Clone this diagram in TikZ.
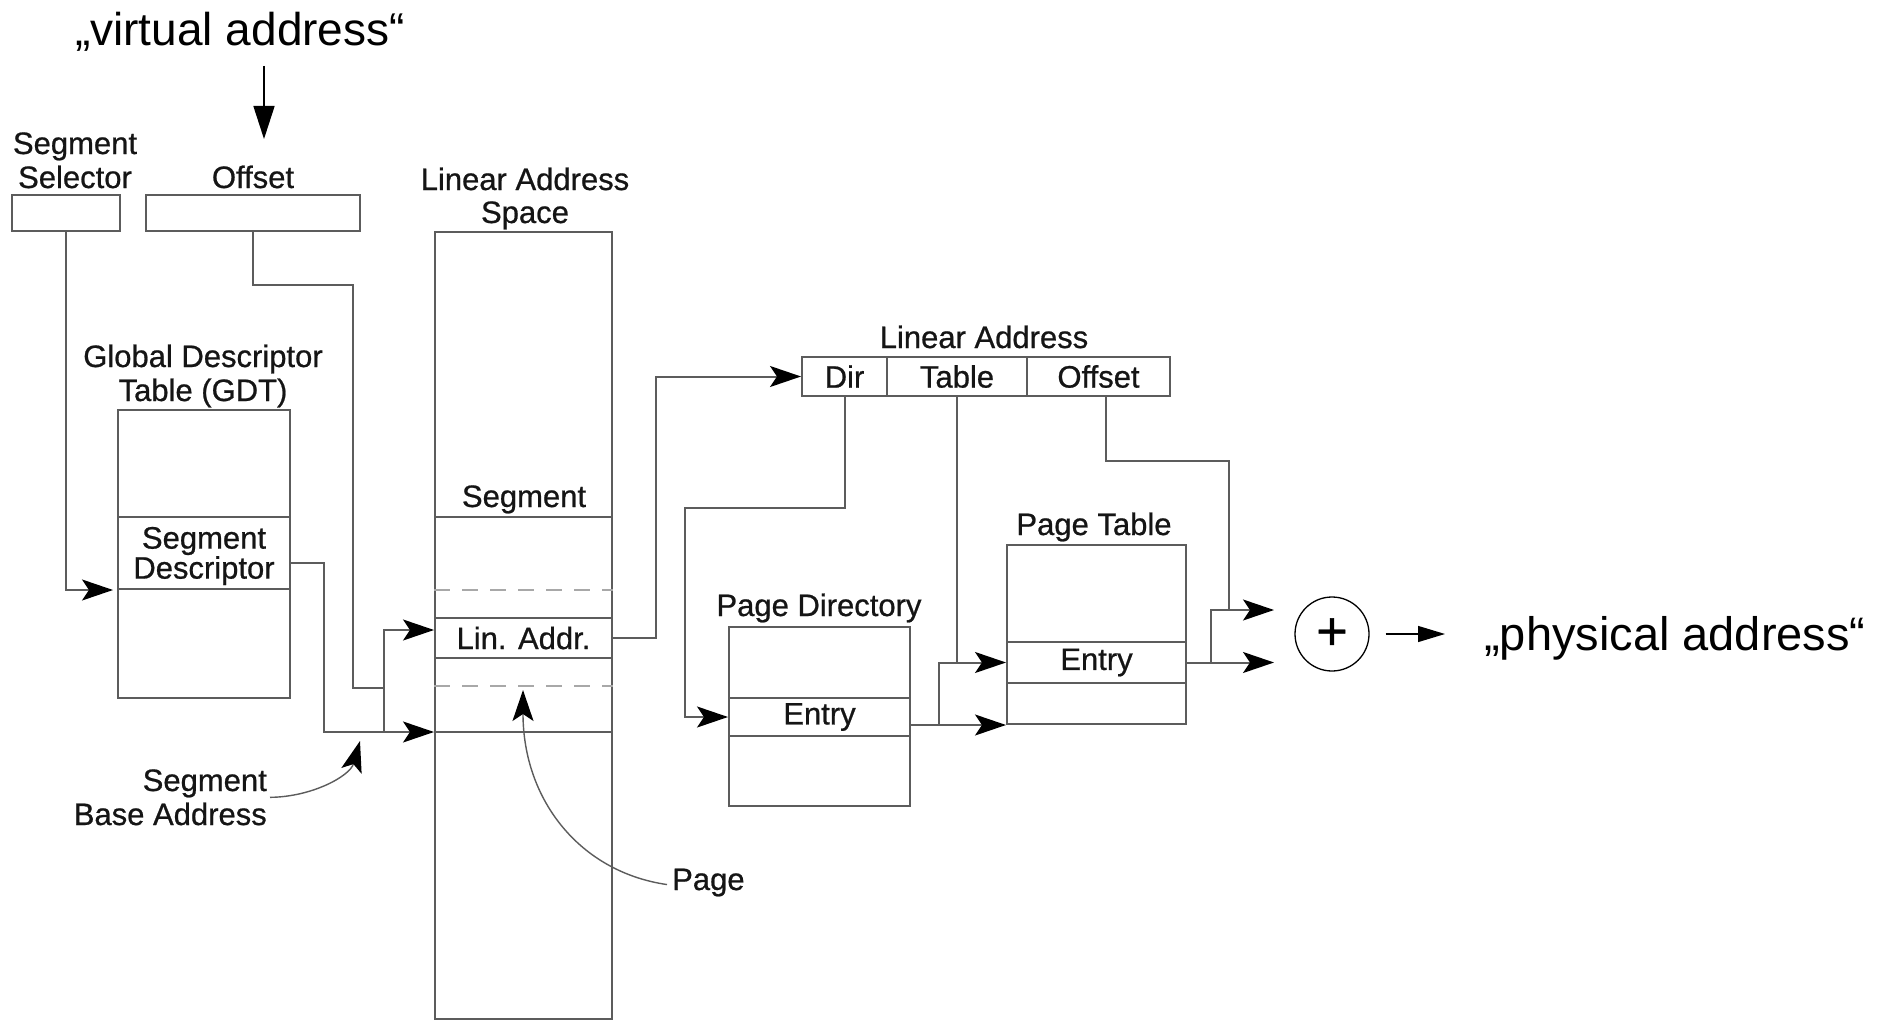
\documentclass[tikz,border=0pt]{standalone}
\usepackage{fontspec}
\setmainfont{Liberation Sans}
\newfontfamily\diagfont{Liberation Sans}[UprightFeatures={FakeBold=0.7}]
\usetikzlibrary{arrows.meta,calc}
\definecolor{ln}{HTML}{5C5C5C}
\definecolor{txt}{HTML}{151515}
\definecolor{dashc}{HTML}{A8A8A8}
\tikzset{
  lbl/.style={font=\diagfont\fontsize{31}{34}\selectfont, text=txt, inner sep=0pt, align=center},
  box/.style={draw=ln, line width=2pt, inner sep=0pt},
  cell/.style={box, font=\diagfont\fontsize{31}{34}\selectfont, text=txt, align=center},
  wire/.style={draw=ln, line width=2pt},
  arr/.style={wire, -{Stealth[length=31pt,width=21pt,inset=7pt,color=black]}},
  dsh/.style={draw=dashc, line width=2pt, dash pattern=on 16pt off 12pt},
  big/.style={font=\fontsize{46}{50}\selectfont, inner sep=0pt},
  bigarr/.style={draw=black, line width=1.6pt, -{Triangle[length=33pt,width=21pt]}},
  outarr/.style={draw=black, line width=1.3pt, -{Triangle[length=27pt,width=16pt]}}
}
\begin{document}
\begin{tikzpicture}[x=1pt,y=-1pt]
\useasboundingbox (0,0) rectangle (1893,1022);
\fill[white] (0,0) rectangle (1893,1022);

% logical address: selector and offset
\node[big, anchor=base] (virt) at (240,46) {„virtual address“};
\node[box, minimum width=108pt, minimum height=36pt] (sel) at (66,213) {};
\node[box, minimum width=214pt, minimum height=36pt] (off) at (253,213) {};
\node[lbl, anchor=base] (sell) at (75,188) {Segment\\Selector};
\node[lbl, anchor=base] (offl) at (253,188) {Offset};
\coordinate (vaTop) at (264,66);
\coordinate (vaTip) at (264,139);
\draw[bigarr] (vaTop) -- (vaTip);

% global descriptor table
\node[box, minimum width=172pt, minimum height=288pt] (gdt) at (204,554) {};
\node[box, minimum width=172pt, minimum height=72pt] (gdtE) at (204,553) {};
\node[lbl, font=\diagfont\fontsize{31}{30}\selectfont] (gdtT) at (204,556) {Segment\\Descriptor};
\node[lbl, anchor=base] (gdtl) at (203,401) {Global Descriptor\\Table (GDT)};

% linear address space
\node[box, minimum width=177pt, minimum height=787pt] (las) at (523.5,625.5) {};
\node[lbl, anchor=base, font=\diagfont\fontsize{31}{33}\selectfont] (lasl) at (525,223) {Linear Address\\Space};
\node[lbl, anchor=base] (segl) at (524,507) {Segment};
\draw[wire] (las.west |- 0,517) -- (las.east |- 0,517);
\draw[dsh] (las.west |- 0,590) -- (las.east |- 0,590);
\node[cell, minimum width=177pt, minimum height=40pt] (lin) at (523.5,638) {Lin. Addr.};
\draw[dsh] (las.west |- 0,686) -- (las.east |- 0,686);
\draw[wire] (las.west |- 0,732) -- (las.east |- 0,732);

% selector -> descriptor -> segment base
\draw[arr, shorten >=4pt] (sel.south) |- (gdtE.south west);
\coordinate (segIn) at (las.west |- 0,732);
\coordinate (linIn) at (las.west |- 0,630);
\coordinate (jn) at (384,732);
\draw[arr] ([yshift=-10pt]gdtE.east) -| (324,732) -- (segIn);
\draw[wire] (off.south) |- (353,285) |- (jn |- 0,688);
\draw[arr] (jn) |- (linIn);

\node[lbl, anchor=base east, align=right] (sba) at (267,825) {Segment\\Base Address};
\coordinate (sbaTip) at (360,741);
\draw[arr, line width=1.4pt] ([xshift=3pt]sba.east) .. controls (312,797) and (350,776) .. (sbaTip);

\node[lbl, anchor=base west] (pg) at (672,890) {Page};
\coordinate (pgTip) at (523,690);
\draw[arr, line width=1.4pt] ([xshift=-5pt,yshift=-2pt]pg.west) .. controls (580,872) and (523,800) .. (pgTip);

% linear address fields
\node[cell, minimum width=85pt, minimum height=39pt] (dir) at (844.5,376.5) {Dir};
\node[cell, minimum width=140pt, minimum height=39pt] (tab) at (957,376.5) {Table};
\node[cell, minimum width=143pt, minimum height=39pt] (ofs) at (1098.5,376.5) {Offset};
\node[lbl, anchor=base] (lal) at (984,348) {Linear Address};
\draw[arr] (lin.east) -- (656,638) |- (dir.west);

% page directory
\node[box, minimum width=181pt, minimum height=179pt] (pd) at (819.5,716.5) {};
\node[cell, minimum width=181pt, minimum height=38pt] (pdE) at (819.5,717) {Entry};
\node[lbl, anchor=base] (pdl) at (819,616) {Page Directory};
\draw[arr] (dir.south) |- (685,508) |- (pdE.west);

% page table
\node[box, minimum width=179pt, minimum height=179pt] (pt) at (1096.5,634.5) {};
\node[cell, minimum width=179pt, minimum height=41pt] (ptE) at (1096.5,662.5) {Entry};
\node[lbl, anchor=base] (ptl) at (1094,535) {Page Table};
\coordinate (jn2) at (939,724);
\draw[arr] (pdE.east |- pt.south) -- (pt.south west);
\draw[arr] (jn2) |- (ptE.west);
\draw[wire] (tab.south) -- (tab.south |- ptE.west);

% physical address
\node[circle, draw=black, line width=1.3pt, minimum size=74pt, inner sep=0pt, font=\diagfont\fontsize{54}{54}\selectfont] (plus) at (1332,634) {+};
\node[big, font=\fontsize{47}{50}\selectfont, anchor=base west] (phys) at (1484,650) {„physical address“};
\coordinate (in1) at (1274,610);
\coordinate (in2) at (1274,662.5);
\coordinate (jn3) at (1211,662.5);
\draw[arr] (ptE.east) -- (in2);
\draw[arr] (jn3) |- (in1);
\draw[wire] ([xshift=7pt]ofs.south) |- (1229,461) -- (1229,610);
\draw[outarr] ([xshift=16pt]plus.east) -- ([xshift=-39pt]phys.west |- plus.east);
\end{tikzpicture}
\end{document}
